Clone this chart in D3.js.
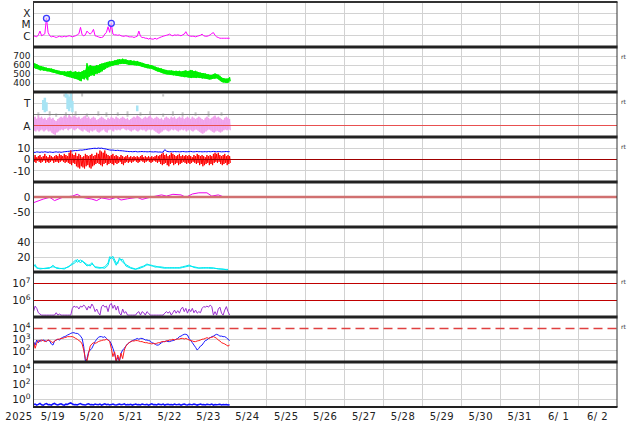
<!DOCTYPE html>
<html><head><meta charset="utf-8">
<script src="https://cdn.jsdelivr.net/npm/d3@7"></script>
<style>
body{margin:0;background:#fff;}
svg{display:block;font-family:"DejaVu Sans",sans-serif;}
</style></head><body>
<svg id="c" width="634" height="424"></svg>
<script>
// ---------- DATA (hourly from 2025-05-19 00:00 unless a time array is given) ----------
const xrayFlux = [10,9,8,12,26,10,12,15,380,20,10,8,9,8,7,8,9,8,8,9,8,9,10,9,8,9,10,12,15,56,12,10,12,26,18,14,20,37,10,9,8,7,7,8,14,20,63,20,130,14,12,12,11,12,10,9,9,10,9,8,8,8,7,8,9,26,9,7,7,6,6,5,6,5,5,6,5,6,7,8,9,10,11,12,14,11,10,12,11,12,11,10,12,14,23,12,10,9,9,9,8,9,10,11,14,10,9,9,10,12,16,19,11,8,7,6,6,6,6,6,6,6]; // 1e-7 W/m2
const flareHours = [8,48];
const flareFlux = [355,128];
const xrayTicks = [10,100,1000];
const xrayTickLabels = ["C","M","X"];

const windHi = [630,615,610,600,590,585,580,575,570,565,562,560,555,548,545,540,535,530,528,530,525,528,530,535,520,525,530,520,525,520,530,540,545,620,580,600,590,585,590,600,595,610,615,620,625,630,635,640,640,645,650,655,660,665,660,670,660,662,655,650,655,645,648,640,645,635,630,625,620,612,610,605,600,598,590,582,575,570,565,560,552,548,545,540,538,540,535,532,535,530,535,528,530,535,540,530,535,545,540,530,535,525,520,515,510,508,505,500,495,490,490,500,505,500,492,480,462,455,450,448,450,465];
const windLo = [570,560,555,550,540,545,535,540,530,530,525,520,515,510,505,500,495,490,488,480,475,470,465,460,455,450,445,440,430,420,450,440,460,430,470,480,490,480,500,505,510,520,530,545,555,570,575,585,590,595,600,600,605,610,612,615,612,610,605,600,600,600,598,595,595,590,585,578,575,570,565,562,560,555,548,540,530,525,520,510,505,500,495,495,490,488,485,485,480,478,475,472,470,465,468,462,460,455,458,460,455,460,455,455,450,452,448,445,440,440,445,448,450,452,440,425,410,405,405,400,405,420];
const windTicks = [400,500,600,700];

// IMF sector: T = +1 (toward), A = -1 (away)
const awayHi = [-0.3,-0.2,-0.4,-0.1,-0.3,-0.2,-0.4,-0.3,-0.5,-0.3,-0.2,-0.4,-0.3,-0.5,-0.6,-0.4,-0.3,-0.2,-0.3,-0.1,-0.2,-0.3,0.0,-0.2,-0.3,-0.1,-0.2,-0.3,-0.2,-0.4,-0.3,-0.2,-0.1,-0.3,-0.2,-0.4,-0.3,-0.2,-0.3,-0.5,-0.4,-0.3,-0.2,-0.3,-0.4,-0.5,-0.3,-0.4,-0.2,-0.3,-0.4,-0.2,-0.3,-0.4,-0.3,-0.2,-0.3,-0.4,-0.3,-0.5,-0.4,-0.3,-0.2,-0.3,-0.1,-0.2,-0.3,-0.4,-0.3,-0.2,-0.3,-0.2,-0.1,-0.3,-0.4,-0.3,-0.2,-0.3,-0.4,-0.3,-0.5,-0.3,-0.2,-0.3,-0.4,-0.2,-0.3,-0.2,-0.4,-0.3,-0.2,-0.3,-0.2,-0.4,-0.3,-0.2,-0.3,-0.4,-0.2,-0.3,-0.4,-0.3,-0.2,-0.3,-0.4,-0.5,-0.3,-0.2,-0.3,-0.4,-0.3,-0.2,-0.1,-0.3,-0.2,-0.3,-0.4,-0.5,-0.3,-0.2,-0.3,-0.4];
const awayLo = [-1.4,-1.5,-1.3,-1.5,-1.4,-1.3,-1.5,-1.4,-1.3,-1.5,-1.4,-1.6,-1.7,-1.8,-1.6,-1.5,-1.4,-1.3,-1.4,-1.3,-1.2,-1.4,-1.3,-1.2,-1.3,-1.4,-1.3,-1.2,-1.3,-1.4,-1.5,-1.3,-1.4,-1.5,-1.6,-1.4,-1.5,-1.4,-1.3,-1.5,-1.6,-1.5,-1.4,-1.3,-1.5,-1.6,-1.4,-1.3,-1.4,-1.5,-1.3,-1.4,-1.3,-1.4,-1.3,-1.2,-1.3,-1.4,-1.3,-1.4,-1.5,-1.4,-1.3,-1.4,-1.5,-1.4,-1.3,-1.4,-1.3,-1.5,-1.4,-1.3,-1.4,-1.3,-1.4,-1.5,-1.6,-1.7,-1.6,-1.5,-1.4,-1.3,-1.4,-1.5,-1.4,-1.3,-1.4,-1.3,-1.4,-1.5,-1.4,-1.3,-1.4,-1.3,-1.5,-1.4,-1.3,-1.4,-1.5,-1.4,-1.3,-1.4,-1.5,-1.6,-1.7,-1.6,-1.5,-1.4,-1.3,-1.4,-1.5,-1.6,-1.5,-1.4,-1.5,-1.6,-1.5,-1.4,-1.3,-1.4,-1.3,-1.4];
const towardBits = [[6,0.4,1.3],[7,0.2,1.5],[8,0.3,1.1],[20,1.5,1.9],[21,0.5,1.8],[22,0.3,1.6],[23,0.6,1.9],[24,0.2,1.2],[64,0.3,0.8]];
const mixedBits = [[3,-0.2,0.2],[10,-0.1,0.3],[14,-0.2,0.1],[19,1.6,1.8],[20,-0.2,0.2],[26,-0.1,0.3],[30,1.6,1.9],[33,-0.2,0.1],[40,-0.1,0.3],[45,-0.2,0.2],[52,-0.1,0.2],[58,-0.2,0.3],[66,-0.1,0.2],[72,0,0.3],[80,-0.2,0.1],[80,1.6,1.8],[86,-0.1,0.3],[92,-0.2,0.2],[100,-0.1,0.2],[108,-0.2,0.3],[116,-0.1,0.2]];
const sectorTicks = [1,-1];
const sectorTickLabels = ["T","A"];

const bt = [6.5,6.3,6.8,6.6,6.4,6.7,6.5,6.9,6.6,6.4,6.7,6.5,6.3,6.6,6.8,6.5,6.7,6.4,6.6,6.9,7.0,7.2,7.3,7.5,7.6,7.8,8.0,7.9,8.2,8.4,8.3,8.6,8.8,9.0,9.3,9.5,9.7,9.9,10.0,9.8,10.2,9.9,10.1,9.7,9.5,9.2,8.8,8.5,8.3,8.4,8.1,8.0,8.2,7.9,7.8,7.7,7.5,7.3,7.2,7.0,7.1,6.9,7.0,7.2,6.8,6.9,7.0,7.1,6.9,7.0,6.8,6.9,7.0,6.8,6.7,6.9,6.8,6.6,6.7,6.5,6.6,8.8,7.5,7.0,6.9,7.0,6.8,7.1,6.9,7.0,6.8,6.9,7.1,7.0,6.8,6.9,7.0,7.2,6.9,6.8,7.0,7.1,6.9,7.0,6.8,6.9,7.0,6.8,7.1,6.9,7.0,7.2,7.0,6.9,7.1,7.0,6.8,6.9,7.0,7.1,6.9,7.0];
const bzHi = [3,4,2,3,4,2,3,5,3,2,4,3,2,3,4,3,5,4,3,5,4,3,6,8,5,4,6,3,5,4,2,3,5,4,3,4,5,3,4,6,5,8,7,6,8,5,4,3,4,5,3,4,3,2,4,3,2,3,4,2,3,2,3,2,3,2,3,4,2,3,2,3,2,3,2,3,4,3,4,5,6,4,5,3,4,6,5,4,3,4,5,3,4,3,4,3,4,3,2,4,3,5,4,3,4,3,2,4,3,4,3,5,6,5,6,4,3,4,5,3,4,3];
const bzLo = [-2,-3,-1,-2,-3,-2,-1,-3,-2,-3,-2,-1,-3,-2,-2,-3,-2,-1,-2,-3,-2,-3,-4,-5,-3,-4,-6,-7,-8,-6,-7,-8,-6,-5,-7,-8,-6,-5,-4,-3,-4,-5,-6,-4,-3,-5,-4,-3,-4,-5,-3,-4,-3,-2,-4,-5,-3,-2,-3,-2,-3,-2,-1,-2,-3,-2,-1,-2,-3,-2,-1,-2,-3,-2,-1,-2,-3,-2,-4,-5,-4,-3,-5,-6,-4,-3,-5,-4,-3,-5,-4,-3,-2,-3,-4,-3,-4,-3,-2,-3,-4,-3,-5,-4,-6,-5,-4,-3,-5,-4,-5,-3,-2,-3,-2,-4,-5,-4,-3,-5,-4,-3];
const bTicks = [10,0,-10];

const dstHours = [0,6,10,13,18,24,27,30,36,39,42,47,51,54,58,64,67,72,79,82,86,91,94,98,102,107,110,114,117,120];
const dstVals = [-19,-7,-1,-12,-1,3,9,-1,-7,-12,-3,-8,-1,-10,-6,-1,-8,-1,7,3,9,7,-1,10,14,14,3,7,1,-1];
const dstTicks = [0,-50];

const densHours = [0,1,2,4,7,10,12,14,16,19,22,24,26,27,29,30,33,35,36,38,41,44,46,47,49,51,52,53,55,57,60,63,65,68,70,73,75,78,81,84,87,90,92,94,96,99,102,105,108,111,114,117,119,120];
const densA = [9,8,5,5,4.5,5,9,5,4.5,5,7,12,16,13,16,14.7,8,10,12.4,6,5,7,12,20.4,18,9,14,16,17,8,5,3.5,5.8,8,10.7,8,8,6,5,6,5,6,7,8,9.3,6,5,6,5,5,4.5,3.5,3.5,3.5];
const densB = [7,10,6,4,5,6,7,6,5,4,8,10,13,17,12,15,10,8,11,7,6,5,9,17,21,12,11,19,13,10,6,4,4.5,7,9.5,9,6.5,7,6,5,6,5,6,7,8,7,5.5,5,6,5.5,4,4,3,3];
const densTicks = [20,40];

const electron = [2.1e5,4.5e5,3.3e5,1.8e5,1.5e5,1.3e5,1.3e5,1.3e5,1.3e5,1.3e5,1.3e5,1.3e5,1.3e5,1.3e5,1.8e5,1.3e5,1.5e5,1.3e5,1.3e5,1.3e5,1.3e5,1.3e5,1.3e5,1.3e5,3.3e5,4.5e5,3.9e5,4.2e5,3e5,4.5e5,3.9e5,5.2e5,4.2e5,2.6e5,4.5e5,3.3e5,6e5,4.2e5,2.1e5,3e5,1.8e5,1.3e5,4.2e5,5.2e5,3.9e5,4.5e5,2.1e5,5.2e5,6.6e5,3.3e5,5.2e5,2.6e5,4.5e5,1.7e5,1.3e5,3e5,1.7e5,2.1e5,1.3e5,1.3e5,1.3e5,1.3e5,1.3e5,1.3e5,1.8e5,2.1e5,1.3e5,2.1e5,1.8e5,1.3e5,2.1e5,1.7e5,1.3e5,1.3e5,1.3e5,1.3e5,1.3e5,1.3e5,1.3e5,1.3e5,1.3e5,1.7e5,2.1e5,1.7e5,2.1e5,1.3e5,1.8e5,2.6e5,1.7e5,2.4e5,1.7e5,3e5,3.9e5,2.1e5,3.3e5,1.7e5,3e5,2.1e5,3.3e5,1.8e5,2.6e5,1.7e5,2.1e5,1.8e5,3.3e5,4.2e5,3.9e5,4.5e5,3.9e5,5.2e5,4.2e5,1.3e5,2.1e5,1.3e5,3e5,3.9e5,1.7e5,1.3e5,2.6e5,4.2e5,2.1e5,1.3e5];
const electronTicks = [1e6,1e7];

const protonBlue = [650,320,900,520,900,740,900,800,650,900,740,400,320,740,900,1050,900,1250,1550,1800,2000,2500,2900,3500,4000,4000,3500,3500,2900,2000,1250,230,12,20,80,115,165,320,650,1050,1550,1800,1800,1550,1800,1250,900,740,400,165,60,12,26,12,60,115,165,260,400,520,650,800,900,1050,1250,1050,1250,1250,1100,900,900,800,740,520,460,400,320,320,400,520,650,650,740,650,650,740,800,900,1050,1250,1800,2000,2500,2900,2900,2500,1250,800,520,320,200,115,165,260,320,520,800,900,1250,1450,1800,2000,2500,2900,2500,2000,2000,1800,1800,1450,1050,800];
const protonRed = [650,165,460,800,650,900,800,650,740,900,800,650,520,740,900,1050,1100,1250,1250,1450,1550,1800,1800,1800,1800,1550,1250,1050,800,650,400,115,20,12,60,260,400,520,460,520,650,740,800,900,900,1050,900,650,165,30,80,12,42,12,60,20,115,260,400,520,650,740,740,800,800,740,650,650,560,520,520,460,460,400,460,400,460,520,520,650,650,650,740,800,900,900,1050,900,1050,1100,1100,1250,1250,1100,1250,1050,900,800,740,650,650,740,800,900,1050,1100,1250,1450,1250,1450,1550,1800,1550,1250,900,740,520,460,400,320,260,320];
const protonTicks = [1e2,1e3,1e4];
const protonAlert = 1e4;

const neutral = [0.2,0.25,0.18,0.22,0.3,0.2,0.17,0.24,0.28,0.2,0.22,0.18,0.25,0.3,0.21,0.19,0.23,0.27,0.2,0.18,0.24,0.22,0.3,0.35,0.25,0.2,0.22,0.19,0.24,0.28,0.21,0.2,0.18,0.23,0.26,0.2,0.22,0.19,0.25,0.21,0.2,0.24,0.18,0.22,0.27,0.2,0.23,0.19,0.21,0.25,0.2,0.18,0.22,0.24,0.2,0.21,0.26,0.19,0.22,0.2,0.23,0.18,0.21,0.25,0.2,0.22,0.19,0.24,0.21,0.2,0.23,0.18,0.22,0.26,0.2,0.21,0.19,0.24,0.22,0.2,0.25,0.18,0.21,0.23,0.2,0.22,0.19,0.24,0.2,0.21,0.23,0.18,0.22,0.25,0.2,0.19,0.23,0.21,0.2,0.24,0.22,0.18,0.21,0.25,0.2,0.22,0.19,0.23,0.21,0.2,0.24,0.18,0.22,0.2,0.21,0.23,0.19,0.22,0.2,0.21,0.18,0.2];
const neutralTicks = [1,1e2,1e4];

const yearLabel = "2025";
const rtPanels = [1,2,3,6,7];

// ---------- LAYOUT ----------
const svg = d3.select("#c");
const T0 = new Date(2025,4,19,0,0,0);
const T1 = new Date(2025,5,3,0,0,0);
const hAt = h => new Date(T0.getTime() + h*3600000);
const X0 = 33.5, X1 = 617;
const x = d3.scaleTime().domain([T0,T1]).range([X0,X1]);
const TOP = 2, PH = 45, NP = 9;
const pTop = i => TOP + PH*i;
const rng = i => [pTop(i)+PH, pTop(i)];

const ys = [
  d3.scaleLog().domain([1,1e4]).range(rng(0)).clamp(true),
  d3.scaleLinear().domain([300,800]).range(rng(1)).clamp(true),
  d3.scaleLinear().domain([-2,2]).range(rng(2)).clamp(true),
  d3.scaleLinear().domain([-20,20]).range(rng(3)).clamp(true),
  d3.scaleLinear().domain([-100,50]).range(rng(4)).clamp(true),
  d3.scaleLinear().domain([0,60]).range(rng(5)).clamp(true),
  d3.scaleLog().domain([1e5,5e7]).range(rng(6)).clamp(true),
  d3.scaleLog().domain([10,1e5]).range(rng(7)).clamp(true),
  d3.scaleLog().domain([0.1,1e5]).range(rng(8)).clamp(true)
];
const px = v => Math.floor(v)+0.5;

const defs = svg.append("defs");
for (let i=0;i<NP;i++) defs.append("clipPath").attr("id","cp"+i).append("rect")
  .attr("x",X0).attr("y",pTop(i)).attr("width",X1-X0).attr("height",PH);

svg.append("rect").attr("width",634).attr("height",424).attr("fill","#fff");

// vertical grid
const gv = svg.append("g");
d3.timeDay.range(d3.timeDay.offset(T0,1), T1).forEach(d=>{
  gv.append("line").attr("x1",px(x(d))).attr("x2",px(x(d))).attr("y1",TOP).attr("y2",pTop(NP))
    .attr("stroke","#d2d2d2").attr("stroke-width",1);
});

function hline(i, v, color, w, dash){
  const y = w>1.5 ? ys[i](v) : px(ys[i](v));
  const l = svg.append("line").attr("x1",X0).attr("x2",X1).attr("y1",y).attr("y2",y)
    .attr("stroke",color).attr("stroke-width",w);
  if (dash) l.attr("stroke-dasharray",dash);
  return l;
}
// horizontal grids
xrayTicks.forEach(v=>hline(0,v,"#d2d2d2",1));
windTicks.forEach(v=>hline(1,v,"#d2d2d2",1));
hline(2,1,"#d2d2d2",1);
[10,-10].forEach(v=>hline(3,v,"#d2d2d2",1));
hline(4,-50,"#d2d2d2",1);
densTicks.forEach(v=>hline(5,v,"#d2d2d2",1));
[1e2,1e3].forEach(v=>hline(7,v,"#d2d2d2",1));
neutralTicks.forEach(v=>hline(8,v,"#d2d2d2",1));

const pg = i => svg.append("g").attr("clip-path","url(#cp"+i+")");
const hourly = arr => arr.map((v,i)=>({t:hAt(i), v}));
const lineOf = i => d3.line().x(d=>x(d.t)).y(d=>ys[i](d.v));
// alternate between each hour's high and low reading -> jagged trace
const zigzag = (hi, lo) => {
  const out = [];
  hi.forEach((v,i)=>{ out.push({t:hAt(i), v}); out.push({t:hAt(i+0.5), v:lo[i]}); });
  return out;
};

// Panel 0: X-ray
{
  const g = pg(0);
  g.append("path").attr("d",lineOf(0)(hourly(xrayFlux))).attr("fill","none").attr("stroke","#ff00ff").attr("stroke-width",1);
  flareHours.forEach((h,k)=>{
    g.append("circle").attr("cx",x(hAt(h))).attr("cy",ys[0](flareFlux[k])).attr("r",3)
      .attr("fill","#d8d8ff").attr("fill-opacity",0.6).attr("stroke","#3a3aff").attr("stroke-width",1.3);
  });
}
// Panel 1: wind speed
{
  const g = pg(1);
  const d = windHi.map((v,i)=>({t:hAt(i), hi:v, lo:windLo[i]}));
  const ar = d3.area().x(d=>x(d.t)).y0(d=>ys[1](d.lo)).y1(d=>ys[1](d.hi));
  g.append("path").attr("d",ar(d)).attr("fill","#00ff00").attr("stroke","none");
  g.append("path").attr("d",lineOf(1)(zigzag(windHi,windLo))).attr("fill","none").attr("stroke","#00ee00").attr("stroke-width",1);
}
// Panel 2: sector
{
  const g = pg(2);
  hline(2,0,"#808080",1);
  const d = awayHi.map((v,i)=>({t:hAt(i), hi:v, lo:awayLo[i]}));
  const ar = d3.area().x(d=>x(d.t)).y0(d=>ys[2](d.lo)).y1(d=>ys[2](d.hi));
  mixedBits.forEach(b=>g.append("line").attr("x1",x(hAt(b[0]))).attr("x2",x(hAt(b[0])))
    .attr("y1",ys[2](b[1])).attr("y2",ys[2](b[2])).attr("stroke","#c8c8c8").attr("stroke-width",2));
  g.append("path").attr("d",ar(d)).attr("fill","#f6b6f2").attr("stroke","none");
  g.append("path").attr("d",lineOf(2)(zigzag(awayHi,awayLo))).attr("fill","none").attr("stroke","#f0a4ec").attr("stroke-width",1);
  towardBits.forEach(b=>g.append("line").attr("x1",x(hAt(b[0]))).attr("x2",x(hAt(b[0])))
    .attr("y1",ys[2](b[1])).attr("y2",ys[2](b[2])).attr("stroke","#a8e4f4").attr("stroke-width",2.5));
  svg.append("line").attr("x1",X0).attr("x2",X1).attr("y1",px(ys[2](-1))).attr("y2",px(ys[2](-1)))
    .attr("stroke","#e85050").attr("stroke-width",1);
}
// Panel 3: Bt / Bz
{
  const g = pg(3);
  hline(3,0,"#a00000",1);
  g.append("path").attr("d",lineOf(3)(hourly(bt))).attr("fill","none").attr("stroke","#0000ff").attr("stroke-width",1);
  g.append("path").attr("d",lineOf(3)(zigzag(bzHi,bzLo))).attr("fill","none").attr("stroke","#ff0000").attr("stroke-width",1);
}
// Panel 4: Dst
{
  const g = pg(4);
  hline(4,0,"#d07070",2.5);
  const d = dstHours.map((h,k)=>({t:hAt(h), v:dstVals[k]}));
  g.append("path").attr("d",lineOf(4)(d)).attr("fill","none").attr("stroke","#ee00ee").attr("stroke-width",1);
}
// Panel 5: density
{
  const g = pg(5);
  [densA,densB].forEach(arr=>{
    const d = densHours.map((h,k)=>({t:hAt(h), v:arr[k]}));
    g.append("path").attr("d",lineOf(5)(d)).attr("fill","none").attr("stroke","#00e8f0").attr("stroke-width",1);
  });
}
// Panel 6: electrons
{
  const g = pg(6);
  electronTicks.forEach(v=>hline(6,v,"#c00000",1));
  g.append("path").attr("d",lineOf(6)(hourly(electron))).attr("fill","none").attr("stroke","#9a2fd0").attr("stroke-width",1);
}
// Panel 7: protons
{
  const g = pg(7);
  hline(7,protonAlert,"#e04040",1.5,"9,5");
  g.append("path").attr("d",lineOf(7)(hourly(protonBlue))).attr("fill","none").attr("stroke","#1a1aff").attr("stroke-width",1);
  g.append("path").attr("d",lineOf(7)(hourly(protonRed))).attr("fill","none").attr("stroke","#ff1a1a").attr("stroke-width",1);
}
// Panel 8
{
  const g = pg(8);
  g.append("path").attr("d",lineOf(8)(hourly(neutral))).attr("fill","none").attr("stroke","#1010ff").attr("stroke-width",1.5);
}

// frame & separators
svg.append("line").attr("x1",X0).attr("x2",X0).attr("y1",TOP).attr("y2",pTop(NP)).attr("stroke","#333").attr("stroke-width",1);
svg.append("line").attr("x1",X1).attr("x2",X1).attr("y1",TOP).attr("y2",pTop(NP)).attr("stroke","#333").attr("stroke-width",1);
svg.append("line").attr("x1",X0-0.5).attr("x2",X1+0.5).attr("y1",TOP).attr("y2",TOP).attr("stroke","#333").attr("stroke-width",2);
for (let i=1;i<NP;i++){
  svg.append("line").attr("x1",X0-0.5).attr("x2",X1+0.5).attr("y1",pTop(i)).attr("y2",pTop(i)).attr("stroke","#222").attr("stroke-width",3);
}
svg.append("line").attr("x1",X0-0.5).attr("x2",X1+0.5).attr("y1",pTop(NP)).attr("y2",pTop(NP)).attr("stroke","#222").attr("stroke-width",2);

// y labels
const LX = 30.5;
function lab(y, txt, fs){
  svg.append("text").attr("x",LX).attr("y",y).attr("dy","0.36em").attr("text-anchor","end")
    .attr("font-size",fs||10.5).attr("fill","#222").text(txt);
}
function supLab(y, v){
  const e = Math.round(Math.log10(v));
  const t = svg.append("text").attr("x",LX).attr("y",y).attr("dy","0.36em").attr("text-anchor","end")
    .attr("font-size",10.5).attr("fill","#222");
  t.append("tspan").text("10");
  t.append("tspan").attr("dy",-4.5).attr("font-size",7.5).text(e);
}
xrayTicks.forEach((v,k)=>lab(ys[0](v), xrayTickLabels[k]));
windTicks.forEach(v=>lab(ys[1](v), v, 9));
sectorTicks.forEach((v,k)=>lab(ys[2](v), sectorTickLabels[k]));
bTicks.forEach(v=>lab(ys[3](v), v<0? "-"+(-v) : v));
dstTicks.forEach(v=>lab(ys[4](v), v<0? "-"+(-v) : v));
densTicks.forEach(v=>lab(ys[5](v), v));
electronTicks.forEach(v=>supLab(ys[6](v), v));
protonTicks.forEach(v=>supLab(ys[7](v), v));
neutralTicks.forEach(v=>supLab(ys[8](v), v));

// rt markers
rtPanels.forEach(i=>svg.append("text").attr("x",621).attr("y",pTop(i)+12).attr("font-size",6).attr("fill","#333").text("rt"));

// x labels
const fmt = d3.timeFormat("%-m/%e");
d3.timeDay.range(T0, T1).forEach(d=>{
  svg.append("text").attr("x",x(d3.timeHour.offset(d,12))).attr("y",420).attr("text-anchor","middle")
    .attr("font-size",10).attr("fill","#222").style("white-space","pre").attr("letter-spacing",0.5).text(fmt(d));
});
svg.append("text").attr("x",19).attr("y",420).attr("text-anchor","middle").attr("font-size",10)
  .attr("fill","#222").attr("letter-spacing",0.5).text(yearLabel);
</script>
</body></html>
